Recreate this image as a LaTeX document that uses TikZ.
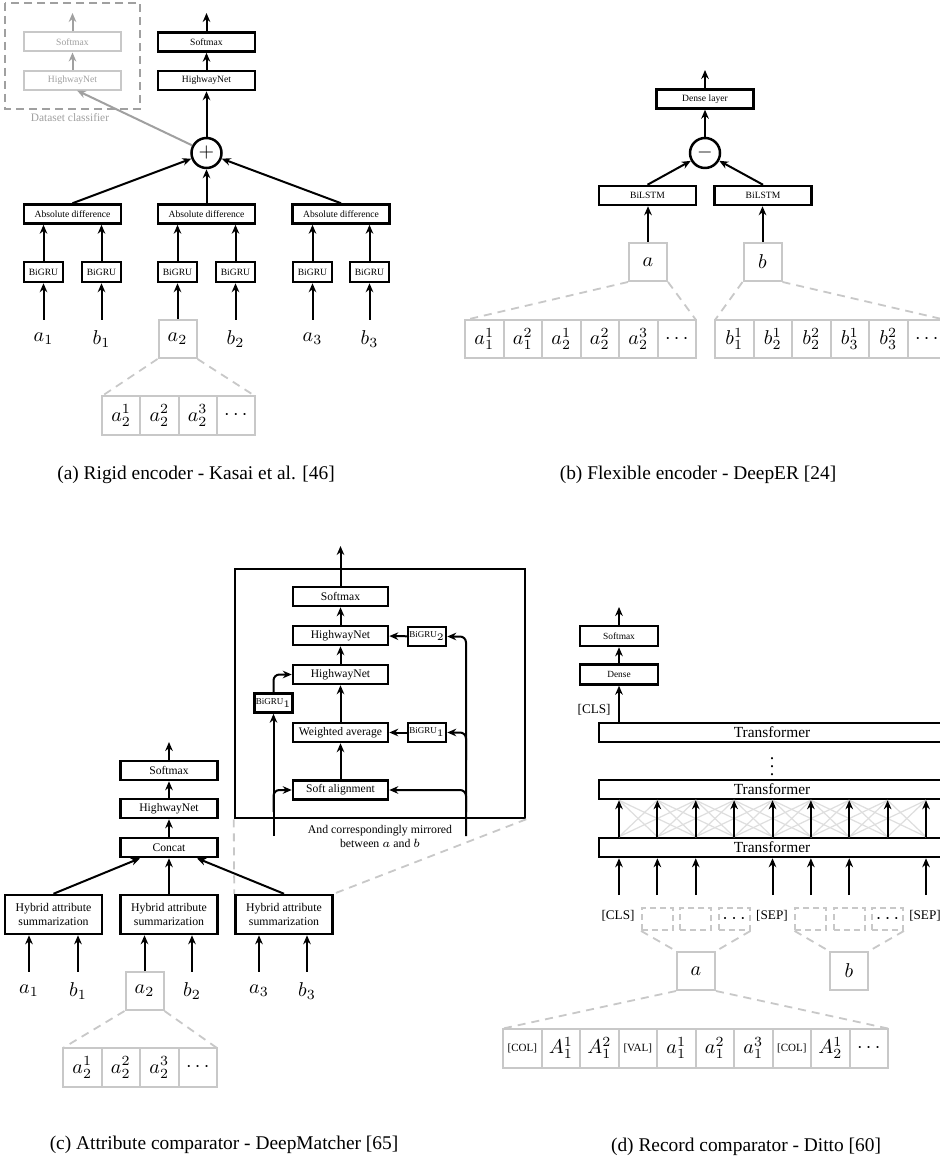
\documentclass[tikz,border=0pt]{standalone}
\usepackage{fontspec}
\setmainfont{Liberation Serif}
\usetikzlibrary{arrows.meta,calc}
\definecolor{lg}{RGB}{200,200,200}
\definecolor{mg}{RGB}{160,160,160}
\definecolor{xg}{RGB}{222,222,222}
\newcommand\ctok[1]{{\fontsize{5.5}{6}\selectfont[#1]}}
\begin{document}
\begin{tikzpicture}[x=0.5pt,y=-0.5pt,
  bx/.style={draw,line width=1.25pt,inner sep=0pt,minimum width=48.5pt,minimum height=9.5pt,font=\fontsize{4.8}{5.8}\selectfont},
  gbx/.style={bx,draw=lg,line width=1pt,text=mg},
  sbx/.style={bx,minimum width=19.5pt,minimum height=10pt},
  mbx/.style={bx,font=\fontsize{5.8}{6.6}\selectfont},
  ibx/.style={bx,minimum width=47.5pt,font=\fontsize{5.8}{6.6}\selectfont},
  isbx/.style={bx,minimum width=19pt,font=\fontsize{4.5}{5}\selectfont},
  dbx/.style={bx,minimum width=39pt,minimum height=10pt,font=\fontsize{4.7}{5.5}\selectfont},
  tbx/.style={bx,minimum width=173pt,minimum height=9.5pt,font=\fontsize{7.7}{8.5}\selectfont},
  opc/.style={circle,draw,line width=1.25pt,minimum size=15pt,inner sep=0pt,font=\fontsize{10}{12}\selectfont},
  lab/.style={inner sep=0pt,minimum size=19pt,font=\fontsize{10}{12}\selectfont},
  glab/.style={lab,draw=lg,line width=1pt},
  celltxt/.style={inner sep=0pt,font=\fontsize{10}{12}\selectfont},
  cellg/.style={draw=lg,line width=1pt},
  dtok/.style={draw=lg,dashed,dash pattern=on 3pt off 2pt,line width=0.9pt,inner sep=0pt,minimum width=15.5pt,minimum height=11pt,font=\fontsize{10}{12}\selectfont},
  tok/.style={inner sep=0pt,font=\fontsize{6.6}{7.5}\selectfont},
  arr/.style={line width=1pt,-{Stealth[length=4.5pt,width=3.8pt]}},
  garr/.style={arr,draw=mg},
  gd/.style={draw=lg,line width=0.9pt,dash pattern=on 4pt off 3pt},
  capt/.style={font=\fontsize{9.7}{11.6}\selectfont}]
\path[use as bounding box,fill=white] (0,0) rectangle (940,1159);

% ---------------- (a) ----------------
\draw[draw=mg,line width=1pt,dash pattern=on 4pt off 2.5pt] (5,3) rectangle (140,109);
\node[gbx] (gsm) at (72.5,42) {Softmax};
\node[gbx] (ghw) at (72.5,80.5) {HighwayNet};
\coordinate (gtop) at (72.5,13);
\draw[garr] (ghw) -- (gsm);
\draw[garr] (gsm.north) -- (gtop);
\node[font=\fontsize{5.7}{7}\selectfont,text=mg] (dsc) at (70,118) {Dataset classifier};

\node[bx] (sm) at (206.5,42) {Softmax};
\node[bx] (hw) at (206.5,80.5) {HighwayNet};
\node[opc] (plus) at (206.5,153) {$+$};
\coordinate (atop) at (206.5,13);
\draw[arr] (plus) -- (hw);
\draw[arr] (hw) -- (sm);
\draw[arr] (sm.north) -- (atop);
\coordinate (gin) at (77,90.5);
\draw[garr] (plus.152) -- (gin);

\node[bx] (ad1) at (72.5,214) {Absolute difference};
\node[bx] (ad2) at (206.5,214) {Absolute difference};
\node[bx] (ad3) at (341,214) {Absolute difference};
\foreach \k in {1,2,3} \draw[arr] (ad\k.north) -- (plus);

\node[sbx] (g1) at (43.5,272) {BiGRU};
\node[sbx] (g2) at (101.5,272) {BiGRU};
\node[sbx] (g3) at (177.5,272) {BiGRU};
\node[sbx] (g4) at (235.5,272) {BiGRU};
\node[sbx] (g5) at (312.5,272) {BiGRU};
\node[sbx] (g6) at (369.5,272) {BiGRU};
\draw[arr] (g1.north) -- (g1.north |- ad1.south);
\draw[arr] (g2.north) -- (g2.north |- ad1.south);
\draw[arr] (g3.north) -- (g3.north |- ad2.south);
\draw[arr] (g4.north) -- (g4.north |- ad2.south);
\draw[arr] (g5.north) -- (g5.north |- ad3.south);
\draw[arr] (g6.north) -- (g6.north |- ad3.south);

\node[lab] (la1) at (43.5,339) {$a_1$};
\node[lab] (la2) at (101.5,339) {$b_1$};
\node[glab] (la3) at (177.5,339) {$a_2$};
\node[lab] (la4) at (235.5,339) {$b_2$};
\node[lab] (la5) at (312.5,339) {$a_3$};
\node[lab] (la6) at (369.5,339) {$b_3$};
\foreach \k in {1,...,6} \draw[arr] (la\k.north) -- (g\k.south);

\draw[cellg] (102,396) rectangle (255,435);
\foreach \i in {1,2,3} \draw[cellg] ({102+38.25*\i},396) -- ({102+38.25*\i},435);
\foreach \t [count=\i] in {a_2^1,a_2^2,a_2^3,\cdots}
  \node[celltxt] (ac\i) at ({102+38.25*(\i-0.5)},415.5) {$\t$};
\coordinate (acnw) at (102,396);
\coordinate (acne) at (255,396);
\draw[gd] (la3.south west) -- (acnw);
\draw[gd] (la3.south east) -- (acne);
\node[capt] (capa) at (196,475) {(a) Rigid encoder - Kasai et al. [46]};

% ---------------- (b) ----------------
\node[bx] (dl) at (705,99) {Dense layer};
\coordinate (btop) at (705,70);
\node[opc] (minus) at (705,153) {$-$};
\node[bx] (ls1) at (647.5,195.5) {BiLSTM};
\node[bx] (ls2) at (763,195.5) {BiLSTM};
\node[glab] (ba) at (648,262) {$a$};
\node[glab] (bb) at (762.5,262) {$b$};
\draw[arr] (dl.north) -- (btop);
\draw[arr] (minus) -- (dl);
\draw[arr] (ls1.north) -- (minus);
\draw[arr] (ls2.north) -- (minus);
\draw[arr] (ba.north) -- (ba.north |- ls1.south);
\draw[arr] (bb.north) -- (bb.north |- ls2.south);
\draw[cellg] (465,320) rectangle (696,358);
\foreach \i in {1,...,5} \draw[cellg] ({465+38.5*\i},320) -- ({465+38.5*\i},358);
\draw[cellg] (715,320) rectangle (946,358);
\foreach \i in {1,...,5} \draw[cellg] ({715+38.5*\i},320) -- ({715+38.5*\i},358);
\foreach \t [count=\i] in {a_1^1,a_1^2,a_2^1,a_2^2,a_2^3,\cdots}
  \node[celltxt] (bca\i) at ({465+38.5*(\i-0.5)},339) {$\t$};
\foreach \t [count=\i] in {b_1^1,b_2^1,b_2^2,b_3^1,b_3^2,\cdots}
  \node[celltxt] (bcb\i) at ({715+38.5*(\i-0.5)},339) {$\t$};
\coordinate (bcanw) at (465,320);
\coordinate (bcane) at (696,320);
\coordinate (bcbnw) at (715,320);
\coordinate (bcbne) at (946,320);
\draw[gd] (ba.south west) -- (bcanw);
\draw[gd] (ba.south east) -- (bcane);
\draw[gd] (bb.south west) -- (bcbnw);
\draw[gd] (bb.south east) -- (bcbne);
\node[capt] (capb) at (698,475) {(b) Flexible encoder - DeepER [24]};

% ---------------- (c) ----------------
\node[mbx] (csm) at (169,770.5) {Softmax};
\node[mbx] (chw) at (169,808.5) {HighwayNet};
\node[mbx] (ccc) at (169,847.5) {Concat};
\coordinate (ctop) at (169,742);
\draw[arr] (csm.north) -- (ctop);
\draw[arr] (chw) -- (csm);
\draw[arr] (ccc) -- (chw);
\node[mbx,minimum height=19.5pt,align=center,font=\fontsize{5.9}{6.6}\selectfont] (h1) at (53.5,914.5) {Hybrid attribute\\summarization};
\node[mbx,minimum height=19.5pt,align=center,font=\fontsize{5.9}{6.6}\selectfont] (h2) at (169,914.5) {Hybrid attribute\\summarization};
\node[mbx,minimum height=19.5pt,align=center,font=\fontsize{5.9}{6.6}\selectfont] (h3) at (284,914.5) {Hybrid attribute\\summarization};
\draw[arr] (h1.north) -- ($(ccc.south)+(-29,0)$);
\draw[arr] (h2.north) -- (ccc.south);
\draw[arr] (h3.north) -- ($(ccc.south)+(28,0)$);

\node[lab] (lc1) at (29,991) {$a_1$};
\node[lab] (lc2) at (78,991) {$b_1$};
\node[glab] (lc3) at (144.5,991) {$a_2$};
\node[lab] (lc4) at (192,991) {$b_2$};
\node[lab] (lc5) at (259,991) {$a_3$};
\node[lab] (lc6) at (307,991) {$b_3$};
\draw[arr] (lc1.north) -- (lc1.north |- h1.south);
\draw[arr] (lc2.north) -- (lc2.north |- h1.south);
\draw[arr] (lc3.north) -- (lc3.north |- h2.south);
\draw[arr] (lc4.north) -- (lc4.north |- h2.south);
\draw[arr] (lc5.north) -- (lc5.north |- h3.south);
\draw[arr] (lc6.north) -- (lc6.north |- h3.south);
\draw[cellg] (63,1048) rectangle (217,1087);
\foreach \i in {1,2,3} \draw[cellg] ({63+38.5*\i},1048) -- ({63+38.5*\i},1087);
\foreach \t [count=\i] in {a_2^1,a_2^2,a_2^3,\cdots}
  \node[celltxt] (cc\i) at ({63+38.5*(\i-0.5)},1067.5) {$\t$};
\coordinate (ccnw) at (63,1048);
\coordinate (ccne) at (217,1048);
\draw[gd] (lc3.south west) -- (ccnw);
\draw[gd] (lc3.south east) -- (ccne);

% zoomed box
\node[draw,line width=1.25pt,minimum width=145pt,minimum height=124.5pt,inner sep=0pt] (big) at (380,693.5) {};
\draw[gd] (big.south west) -- (h3.north west);
\draw[gd] (big.south east) -- (h3.north east);
\node[ibx] (ism) at (340.5,596.5) {Softmax};
\node[ibx] (ihw2) at (340.5,635.5) {HighwayNet};
\node[ibx] (ihw1) at (340.5,674.5) {HighwayNet};
\node[ibx] (iwa) at (340.5,732.5) {Weighted average};
\node[ibx] (isa) at (340.5,790) {Soft alignment};
\node[isbx] (ig2) at (427,636.5) {BiGRU$_2$};
\node[isbx] (ig1r) at (427,732.5) {BiGRU$_1$};
\node[isbx] (ig1l) at (273.5,703) {BiGRU$_1$};
\coordinate (itop) at (340.5,546);
\draw[arr] (isa) -- (iwa);
\draw[arr] (iwa) -- (ihw1);
\draw[arr] (ihw1) -- (ihw2);
\draw[arr] (ihw2) -- (ism);
\draw[arr] (ism.north) -- (itop);
\draw[arr] (ig2) -- (ihw2);
\draw[arr] (ig1r) -- (iwa);
\coordinate (lb) at (273.5,836);
\coordinate (lbr) at (273.5,812);
\draw[arr] (lb) -- (ig1l.south);
\draw[arr,rounded corners=3pt] (ig1l.north) |- (ihw1.west);
\draw[arr,rounded corners=3pt] (lbr) |- (isa.west);
\coordinate (rb) at (466,836);
\coordinate (rb2) at (466,760);
\coordinate (rb3) at (466,812);
\draw[arr,rounded corners=3pt] (rb) |- (ig2.east);
\draw[arr,rounded corners=3pt] (rb2) |- (ig1r.east);
\draw[arr,rounded corners=3pt] (rb3) |- (isa.east);
\node[font=\fontsize{5.9}{7}\selectfont,align=center] (mir) at (380,836) {And correspondingly mirrored\\between $a$ and $b$};
\node[capt] (capc) at (224,1145) {(c) Attribute comparator - DeepMatcher [65]};

% ---------------- (d) ----------------
\node[dbx] (dsm) at (619,636) {Softmax};
\node[dbx] (dde) at (619,674.5) {Dense};
\coordinate (dtop) at (619,607);
\node[tbx] (t3) at (772,732.5) {Transformer};
\node[tbx] (t2) at (772,789.5) {Transformer};
\node[tbx] (t1) at (772,847.5) {Transformer};
\node[font=\fontsize{9}{10}\selectfont,inner sep=0pt] (vd) at (772,761) {$\vdots$};
\draw[arr] (dsm.north) -- (dtop);
\draw[arr] (dde) -- (dsm);
\draw[arr] (dde.south |- t3.north) -- (dde.south);
\node[tok,anchor=east] (cls0) at (611,710) {[CLS]};
\foreach \i in {0,...,8} \coordinate (col\i) at ({619+38.375*\i},0);
\foreach \i in {0,...,8}{
  \foreach \d in {-2,-1,1,2}{
    \pgfmathtruncatemacro\j{\i+\d}
    \ifnum\j>-1 \ifnum\j<9
      \draw[xg,line width=0.6pt] (col\i |- t1.north) -- (col\j |- t2.south);
    \fi\fi
  }
}
\foreach \i in {0,...,8} \draw[arr] (col\i |- t1.north) -- (col\i |- t2.south);
\coordinate (bot) at (0,895);
\foreach \i in {0,1,2,4,5,6,8} \draw[arr] (col\i |- bot) -- (col\i |- t1.south);

\node[tok] (cls) at (618,916) {[CLS]};
\node[dtok] (ta1) at ({619+38.375*1},919) {};
\node[dtok] (ta2) at ({619+38.375*2},919) {};
\node[dtok] (ta3) at ({619+38.375*3},919) {$\cdots$};
\node[tok] (sep1) at (772,916) {[SEP]};
\node[dtok] (tb1) at ({619+38.375*5},919) {};
\node[dtok] (tb2) at ({619+38.375*6},919) {};
\node[dtok] (tb3) at ({619+38.375*7},919) {$\cdots$};
\node[tok] (sep2) at (925,916) {[SEP]};
\node[glab] (da) at (696,971) {$a$};
\node[glab] (db) at (849,971) {$b$};
\draw[gd] (ta1.south west) -- (da.north west);
\draw[gd] (ta3.south east) -- (da.north east);
\draw[gd] (tb1.south west) -- (db.north west);
\draw[gd] (tb3.south east) -- (db.north east);
\draw[cellg] (503,1028.5) rectangle (888,1067.5);
\foreach \i in {1,...,9} \draw[cellg] ({503+38.5*\i},1028.5) -- ({503+38.5*\i},1067.5);
\foreach \t [count=\i] in {\ctok{COL},$A_1^1$,$A_1^2$,\ctok{VAL},$a_1^1$,$a_1^2$,$a_1^3$,\ctok{COL},$A_2^1$,$\cdots$}
  \node[celltxt] (dc\i) at ({503+38.5*(\i-0.5)},1048) {\t};
\coordinate (dcnw) at (503,1028.5);
\coordinate (dcne) at (888,1028.5);
\draw[gd] (da.south west) -- (dcnw);
\draw[gd] (da.south east) -- (dcne);
\node[capt] (capd) at (746,1147) {(d) Record comparator - Ditto [60]};
\end{tikzpicture}
\end{document}
